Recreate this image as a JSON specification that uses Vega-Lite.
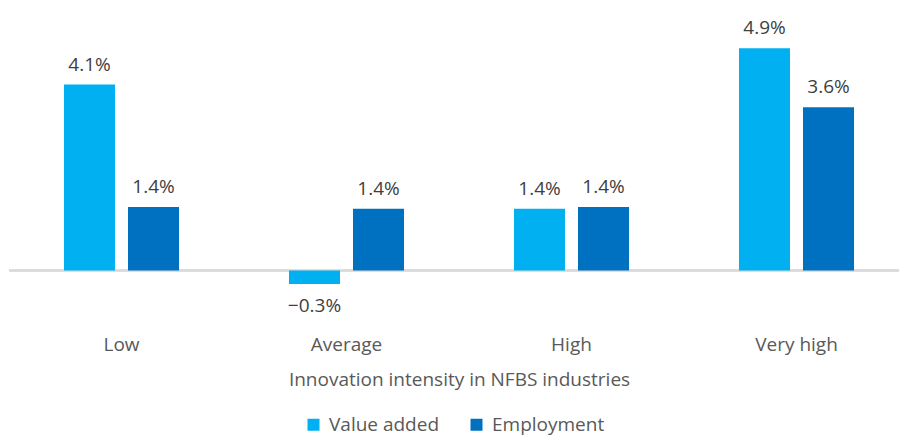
{
  "$schema": "https://vega.github.io/schema/vega-lite/v6.json",
  "width": 890,
  "height": 279,
  "autosize": {"type": "none"},
  "padding": {"left": 9, "top": 21, "right": 0, "bottom": 137},
  "background": "white",
  "config": {
    "view": {"stroke": null},
    "font": "Open Sans",
    "legend": {"layout": {"bottom": {"anchor": "middle"}}}
  },
  "data": {
    "values": [
      {"intensity": "Low", "series": "Value added", "value": 0.041},
      {"intensity": "Low", "series": "Employment", "value": 0.014},
      {"intensity": "Average", "series": "Value added", "value": -0.003},
      {"intensity": "Average", "series": "Employment", "value": 0.0136},
      {"intensity": "High", "series": "Value added", "value": 0.0136},
      {"intensity": "High", "series": "Employment", "value": 0.014},
      {"intensity": "Very high", "series": "Value added", "value": 0.049},
      {"intensity": "Very high", "series": "Employment", "value": 0.036}
    ]
  },
  "layer": [
    {
      "mark": {"type": "rule", "color": "#d9d9d9", "strokeWidth": 1.5},
      "encoding": {"y": {"datum": 0, "type": "quantitative", "scale": {"domain": [-0.0065, 0.055], "nice": false, "zero": false}, "axis": null}}
    },
    {
      "mark": {"type": "bar"},
      "encoding": {
        "x": {
          "field": "intensity", "type": "nominal",
          "sort": ["Low", "Average", "High", "Very high"],
          "scale": {"range": [0, 900], "paddingInner": 0, "paddingOuter": 0},
          "title": "Innovation intensity in NFBS industries",
          "axis": {"domain": false, "ticks": false, "labelAngle": 0, "labelPadding": 35, "labelFontSize": 19, "labelColor": "#595959", "titleFontSize": 19, "titleFontWeight": "normal", "titleColor": "#595959", "titlePadding": 16}
        },
        "xOffset": {"field": "series", "type": "nominal", "sort": ["Value added", "Employment"], "scale": {"paddingInner": 0.203, "paddingOuter": 0.859}},
        "y": {"field": "value", "type": "quantitative", "scale": {"domain": [-0.0065, 0.055], "nice": false, "zero": false}, "axis": null},
        "color": {
          "field": "series", "type": "nominal",
          "scale": {"domain": ["Value added", "Employment"], "range": ["#00B0F0", "#0070C0"]},
          "legend": {"title": null, "orient": "bottom", "direction": "horizontal", "symbolType": "square", "symbolSize": 144, "symbolStrokeWidth": 0, "labelFontSize": 19, "labelColor": "#595959", "columnPadding": 27, "labelOffset": 6, "offset": 26}
        }
      }
    },
    {
      "transform": [{"filter": "datum.value >= 0"}],
      "mark": {"type": "text", "baseline": "alphabetic", "dy": -14, "fontSize": 19, "color": "#404040"},
      "encoding": {
        "x": {"field": "intensity", "type": "nominal", "sort": ["Low", "Average", "High", "Very high"]},
        "xOffset": {"field": "series", "type": "nominal", "sort": ["Value added", "Employment"]},
        "y": {"field": "value", "type": "quantitative", "scale": {"domain": [-0.0065, 0.055], "nice": false, "zero": false}},
        "text": {"field": "value", "type": "quantitative", "format": ".1%"}
      }
    },
    {
      "transform": [{"filter": "datum.value < 0"}],
      "mark": {"type": "text", "baseline": "alphabetic", "dy": 28, "fontSize": 19, "color": "#404040"},
      "encoding": {
        "x": {"field": "intensity", "type": "nominal", "sort": ["Low", "Average", "High", "Very high"]},
        "xOffset": {"field": "series", "type": "nominal", "sort": ["Value added", "Employment"]},
        "y": {"field": "value", "type": "quantitative", "scale": {"domain": [-0.0065, 0.055], "nice": false, "zero": false}},
        "text": {"field": "value", "type": "quantitative", "format": ".1%"}
      }
    }
  ]
}
